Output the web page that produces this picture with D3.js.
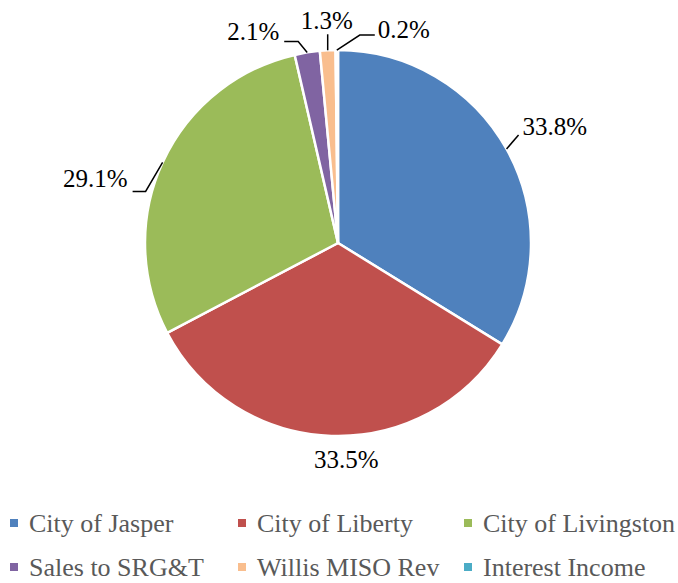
<!DOCTYPE html>
<html>
<head>
<meta charset="utf-8">
<script src="https://cdn.jsdelivr.net/npm/d3@7"></script>
</head>
<body style="margin:0">
<script>
const categories = ['City of Jasper', 'City of Liberty', 'City of Livingston', 'Sales to SRG&T', 'Willis MISO Rev', 'Interest Income'];
const shares = [33.8, 33.5, 29.1, 2.1, 1.3, 0.2];
const labels = ['33.8%', '33.5%', '29.1%', '2.1%', '1.3%', '0.2%'];
const colors = ['#4F81BD', '#C0504D', '#9BBB59', '#8064A2', '#F9BE8E', '#4BACC6'];

const width = 678, height = 583;
const cx = 338, cy = 243, radius = 193;

// leader layout per label: elbow offset from the arc edge, then a horizontal run
const leaders = [
    { elbow: [12, -14], run: 0, anchor: 'start', tx: 4, ty: 0 },
    { elbow: null, anchor: 'middle', tx: 15, ty: 32 },
    { elbow: [-17, 29], run: -13, anchor: 'end', tx: -5, ty: -4 },
    { elbow: [-9, -11], run: -14, anchor: 'end', tx: -5, ty: -1 },
    { elbow: [0, -16], run: 0, anchor: 'middle', tx: -1, ty: -5 },
    { elbow: [23, -15], run: 15, anchor: 'start', tx: 3, ty: 3 }
];

const svg = d3.select('body').append('svg')
    .attr('width', width)
    .attr('height', height);

const pie = d3.pie().sort(null).value(d => d);
const arcs = pie(shares);
const arc = d3.arc().innerRadius(0).outerRadius(radius);

const g = svg.append('g').attr('transform', `translate(${cx},${cy})`);

g.selectAll('path.slice').data(arcs)
    .enter()
    .append('path')
    .attr('class', 'slice')
    .attr('d', arc)
    .attr('fill', (d, i) => colors[i])
    .attr('stroke', '#fff')
    .attr('stroke-width', 2.5)
    .attr('stroke-linejoin', 'round');

arcs.forEach((d, i) => {
    const mid = (d.startAngle + d.endAngle) / 2;
    const ex = radius * Math.sin(mid);
    const ey = -radius * Math.cos(mid);
    const L = leaders[i];
    let px = ex, py = ey;
    if (L.elbow) {
        const bx = ex + L.elbow[0], by = ey + L.elbow[1];
        const hx = bx + L.run;
        g.append('path')
            .attr('d', d3.line()([[ex, ey], [bx, by], [hx, by]]))
            .attr('fill', 'none')
            .attr('stroke', '#000')
            .attr('stroke-width', 1.5);
        px = hx; py = by;
    }
    svg.append('text')
        .attr('x', cx + px + L.tx)
        .attr('y', cy + py + L.ty)
        .attr('text-anchor', L.anchor)
        .attr('font-size', 25)
        .style('font-family', '"Times New Roman"')
        .attr('fill', '#000')
        .text(labels[i]);
});

// legend, 3 per row
const colX = [10, 238, 464];
const rowY = [532, 576];

svg.selectAll('rect.key').data(categories)
    .enter()
    .append('rect')
    .attr('class', 'key')
    .attr('x', (d, i) => colX[i % 3])
    .attr('y', (d, i) => rowY[Math.floor(i / 3)] - 13)
    .attr('width', 8)
    .attr('height', 8)
    .attr('fill', (d, i) => colors[i]);

svg.selectAll('text.key').data(categories)
    .enter()
    .append('text')
    .attr('class', 'key')
    .attr('x', (d, i) => colX[i % 3] + 19)
    .attr('y', (d, i) => rowY[Math.floor(i / 3)])
    .attr('font-size', 26)
    .style('font-family', '"Times New Roman"')
    .attr('fill', '#595959')
    .text(d => d);
</script>
</body>
</html>
